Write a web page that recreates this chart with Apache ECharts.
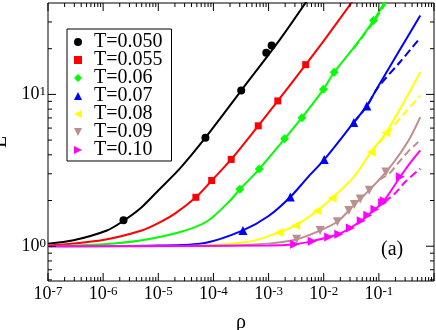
<!DOCTYPE html>
<html><head><meta charset="utf-8">
<script src="https://cdn.jsdelivr.net/npm/echarts@6/dist/echarts.min.js"></script>
<style>html,body{margin:0;padding:0;background:#fff}#c{width:436px;height:330px}</style>
</head><body><div id="c"></div>
<script>
const FONT = 'Liberation Serif';
const legendNames = ['T=0.050','T=0.055','T=0.06','T=0.07','T=0.08','T=0.09','T=0.10'];
const colors = ['#000000','#ff0000','#00ff00','#0000ff','#ffff00','#bc8f8f','#ff00ff'];
const symbols = ['circle','rect','diamond','triangle','triangle','triangle','triangle'];
const symbolRot = [0,0,0,0,90,180,-90];
const symbolSizes = [8,7,9,9,9,9,9];
const legendIcons = ['circle','rect','diamond','triangle',
  'path://M0,5L10,0L10,10Z','path://M0,0L10,0L5,10Z','path://M10,5L0,0L0,10Z'];

// [rho, L] pairs
const fit050 = [[1e-7,1.04],[2.9e-7,1.095],[1.17e-6,1.27],[2.34e-6,1.47],[4.7e-6,1.77],[1e-5,2.33],[2.5e-5,3.27],[7.16e-5,5.19],[3.19e-4,10.6],[1.65e-3,23.3],[5.8e-3,45]];
const pts050 = [[2.34e-6,1.48],[7.16e-5,5.19],[3.19e-4,10.6],[9.08e-4,18.8],[1.135e-3,21.0]];

const fit055 = [[1e-7,1.01],[1e-6,1.10],[5e-6,1.27],[1e-5,1.42],[2e-5,1.64],[4.81e-5,2.10],[9.3e-5,2.71],[2.1e-4,3.73],[6.5e-4,6.21],[1.47e-3,9.06],[4.71e-3,15.7],[1e-2,22.5],[4e-2,45]];
const pts055 = [[4.81e-5,2.10],[9.3e-5,2.71],[2.1e-4,3.73],[6.5e-4,6.21],[1.47e-3,9.06],[4.71e-3,15.7]];

const fit06 = [[1e-7,1.0],[1e-6,1.03],[4.7e-6,1.09],[2.5e-5,1.24],[7.7e-5,1.46],[2.04e-4,2.01],[3.01e-4,2.37],[6.78e-4,3.22],[1.95e-3,5.10],[4.03e-3,7.03],[9.89e-3,10.8],[1.55e-2,14.0],[3.5e-2,20.3],[8e-2,30.7],[0.15,45]];
const dash06 = [[3.5e-2,20.1],[8e-2,30.0],[0.125,38.5],[0.15,43]];
const pts06 = [[3.01e-4,2.37],[6.78e-4,3.22],[1.95e-3,5.10],[4.03e-3,7.03],[9.89e-3,10.8],[1.55e-2,14.0],[8.0e-2,30.7]];

const fit07 = [[1e-7,1.0],[1e-5,1.01],[7e-5,1.05],[3.43e-4,1.27],[1e-3,1.58],[2.48e-3,2.11],[5e-3,2.81],[1.02e-2,3.72],[3.51e-2,6.54],[6.05e-2,8.40],[0.0946,11.1],[0.251,20.2],[0.564,33.1]];
const dash07 = [[3.51e-2,6.54],[6.05e-2,8.35],[0.0946,11.0],[0.251,16.6],[0.564,23.6]];
const pts07 = [[3.43e-4,1.27],[2.48e-3,2.11],[1.02e-2,3.72],[3.51e-2,6.54],[6.05e-2,8.40]];

const fit08 = [[1e-7,1.0],[1e-5,1.0],[1e-4,1.02],[5e-4,1.08],[1.54e-3,1.23],[3.10e-3,1.37],[7.55e-3,1.71],[1.42e-2,2.08],[3.5e-2,2.85],[7.24e-2,4.18],[0.134,5.58],[0.3,9.2],[0.564,14.0]];
const dash08 = [[7.24e-2,4.18],[0.134,5.4],[0.3,7.6],[0.564,9.85]];
const pts08 = [[1.54e-3,1.23],[3.10e-3,1.37],[7.55e-3,1.71],[1.42e-2,2.08],[7.24e-2,4.18],[0.134,5.58]];

const fit09 = [[1e-7,1.0],[1e-4,1.005],[1e-3,1.04],[3.23e-3,1.11],[8.6e-3,1.27],[1.77e-2,1.45],[2.85e-2,1.72],[4.6e-2,2.05],[6.7e-2,2.34],[0.134,3.08],[0.219,3.87],[0.371,5.21],[0.564,7.09]];
const dash09 = [[0.1,2.74],[0.154,3.01],[0.219,3.5],[0.333,4.17],[0.519,4.86]];
const pts09 = [[3.23e-3,1.11],[8.6e-3,1.27],[1.77e-2,1.45],[2.85e-2,1.72],[3.6e-2,1.88],[4.6e-2,2.05],[6.7e-2,2.34],[0.134,3.08]];

const fit10 = [[1e-7,1.0],[1e-3,1.01],[2.97e-3,1.03],[6.18e-3,1.08],[1.23e-2,1.15],[1.88e-2,1.20],[3.05e-2,1.32],[4.8e-2,1.47],[6.31e-2,1.60],[8.5e-2,1.75],[0.12,1.96],[0.245,2.87],[0.382,3.59],[0.564,4.28]];
const dash10 = [[0.125,1.96],[0.19,2.2],[0.3,2.65],[0.564,3.24]];
const pts10 = [[2.97e-3,1.03],[6.18e-3,1.08],[1.23e-2,1.15],[1.88e-2,1.20],[3.05e-2,1.32],[4.8e-2,1.47],[6.31e-2,1.60],[8.5e-2,1.75],[0.117,1.93],[0.125,1.99],[0.245,2.87]];

const fits = [fit050,fit055,fit06,fit07,fit08,fit09,fit10];
const dashes = [null,null,dash06,dash07,dash08,dash09,dash10];
const points = [pts050,pts055,pts06,pts07,pts08,pts09,pts10];

// axis ranges and tick values
const xMin = 1e-7, xMax = 1, yMin = 0.59, yMax = 40;
const xMajor = [1e-7,1e-6,1e-5,1e-4,1e-3,1e-2,1e-1,1];
const xMinorMult = [2,3,4,5,6,7,8,9];
const yMajor = [1,10];
const yMinor = [0.6,0.7,0.8,0.9,2,3,4,5,6,7,8,9,20,30];
const xMinor = [];
xMajor.slice(0, -1).forEach(d => xMinorMult.forEach(m => xMinor.push(d * m)));

function powLabel(v, allowed) {
  const l = Math.log10(v), e = Math.round(l);
  if (Math.abs(l - e) > 1e-6 || allowed.indexOf(e) < 0) return '';
  return '{b|10}{s|' + e + '}';
}
const rich = {
  b: {fontFamily: FONT, fontSize: 18, lineHeight: 18, verticalAlign: 'bottom', color: '#000'},
  s: {fontFamily: FONT, fontSize: 13, lineHeight: 14, verticalAlign: 'top', padding: [0, 0, 10, 0], color: '#000'}
};

const series = [];
for (let i = 0; i < 7; i++) {
  series.push({type: 'line', name: 'fit' + i, data: fits[i], showSymbol: false, symbol: 'none',
    smooth: 0.3, lineStyle: {color: colors[i], width: 2}, z: 3, silent: true});
  if (dashes[i]) series.push({type: 'line', name: 'dash' + i, data: dashes[i], showSymbol: false, symbol: 'none',
    smooth: 0.3, lineStyle: {color: colors[i], width: 2, type: [8, 4]}, z: 3, silent: true});
}
for (let i = 0; i < 7; i++) {
  series.push({type: 'scatter', name: legendNames[i], data: points[i], symbol: symbols[i],
    symbolRotate: symbolRot[i], symbolSize: symbolSizes[i], symbolKeepAspect: true,
    itemStyle: {color: colors[i], opacity: 1}, z: 5});
}
// tick marks: thin rect symbols placed on the frame through the axes' own scales
function tickSeries(name, data, size, offset) {
  series.push({type: 'scatter', name: name, data: data, symbol: 'rect', symbolSize: size, symbolOffset: offset,
    symbolKeepAspect: false, itemStyle: {color: '#000', opacity: 1}, silent: true, clip: false, z: 10});
}
tickSeries('xb', xMajor.map(v => [v, yMin]), [1, 8], [0, -4]);
tickSeries('xt', xMajor.map(v => [v, yMax]), [1, 8], [0, 4]);
tickSeries('xbm', xMinor.map(v => [v, yMin]), [1, 4], [0, -2]);
tickSeries('xtm', xMinor.map(v => [v, yMax]), [1, 4], [0, 2]);
tickSeries('yl', yMajor.map(v => [xMin, v]), [8, 1], [4, 0]);
tickSeries('yr', yMajor.map(v => [xMax, v]), [8, 1], [-4, 0]);
tickSeries('ylm', yMinor.map(v => [xMin, v]), [4, 1], [2, 0]);
tickSeries('yrm', yMinor.map(v => [xMax, v]), [4, 1], [-2, 0]);

const chart = echarts.init(document.getElementById('c'), null, {renderer: 'canvas'});
chart.setOption({
  animation: false,
  backgroundColor: '#fff',
  grid: {left: 48, right: 2, top: 3, bottom: 49, containLabel: false, outerBoundsMode: 'none',
    show: true, borderColor: '#000', borderWidth: 1, backgroundColor: 'transparent'},
  xAxis: {type: 'log', logBase: 10, min: xMin, max: xMax, splitNumber: 7,
    axisLine: {show: false}, axisTick: {show: false}, splitLine: {show: false}, minorTick: {show: false},
    axisLabel: {margin: 4, hideOverlap: false, showMinLabel: true, showMaxLabel: true,
      formatter: v => powLabel(v, [-7,-6,-5,-4,-3,-2,-1]), rich: rich},
    name: 'ρ', nameLocation: 'middle', nameGap: 25,
    nameTextStyle: {fontFamily: FONT, fontSize: 20, color: '#000'}},
  yAxis: {type: 'log', logBase: 10, min: yMin, max: yMax, splitNumber: 2,
    axisLine: {show: false}, axisTick: {show: false}, splitLine: {show: false}, minorTick: {show: false},
    axisLabel: {margin: 2, hideOverlap: false, showMinLabel: true, showMaxLabel: true,
      formatter: v => powLabel(v, [0, 1]), rich: rich},
    name: 'L', nameLocation: 'middle', nameRotate: 90, nameGap: 34,
    nameTextStyle: {fontFamily: FONT, fontSize: 20, color: '#000'}},
  legend: {data: legendNames.map((n, i) => ({name: n, icon: legendIcons[i]})),
    orient: 'vertical', left: 67, top: 29, itemWidth: 8, itemHeight: 8, itemGap: -2,
    padding: [3, 9, 1, 7], backgroundColor: '#fff', borderColor: '#000', borderWidth: 1, borderRadius: 0,
    selectedMode: false, z: 20,
    textStyle: {fontFamily: FONT, fontSize: 20, color: '#000', padding: [0, 0, 0, 7]}},
  graphic: [{type: 'text', left: 381, top: 240, z: 100, style: {text: '(a)', fontFamily: FONT, fontSize: 20, fill: '#000'}}],
  series: series
});
</script></body></html>
